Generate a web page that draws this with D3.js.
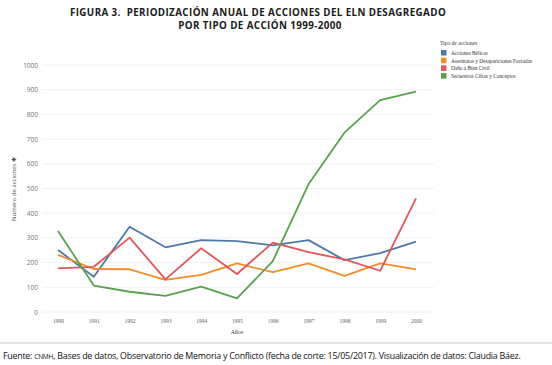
<!DOCTYPE html>
<meta charset="utf-8">
<style>
body { margin: 0; padding: 0; background: #fff; }
svg { display: block; }
.grid line { stroke: #ececec; stroke-width: 0.8px; }
</style>
<body>
<script src="https://d3js.org/d3.v7.min.js"></script>
<script>

var years = [1990, 1991, 1992, 1993, 1994, 1995, 1996, 1997, 1998, 1999, 2000];
var yTicks = [0, 100, 200, 300, 400, 500, 600, 700, 800, 900, 1000];

var seriesNames = ["Acciones Bélicas", "Asesinatos y Desapariciones Forzadas", "Daño a Bien Civil", "Secuestros Cifras y Conceptos"];
var seriesColors = ["#4e79a7", "#f28e2b", "#e15759", "#59a14f"];

var belicas     = [251, 143, 345, 262, 291, 287, 270, 291, 210, 238, 285];
var asesinatos  = [231, 174, 173, 130, 150, 197, 161, 197, 146, 197, 173];
var danoCivil   = [177, 183, 301, 132, 258, 154, 281, 242, 213, 167, 460];
var secuestros  = [328, 107, 82, 65, 103, 55, 206, 518, 726, 858, 892];

var seriesValues = [belicas, asesinatos, danoCivil, secuestros];

var width = 552, height = 365;

var svg = d3.select("body").append("svg")
    .attr("width", width)
    .attr("height", height);

// title
var title = svg.append("g")
    .attr("font-family", "'Open Sans', sans-serif")
    .attr("font-weight", 700)
    .attr("font-size", 9.8)
    .attr("letter-spacing", 0.4)
    .attr("text-anchor", "middle")
    .attr("fill", "#1a1a1a");
title.append("text").attr("x", 258).attr("y", 16).text("FIGURA 3.\u00a0 PERIODIZACIÓN ANUAL DE ACCIONES DEL ELN DESAGREGADO");
title.append("text").attr("x", 260).attr("y", 29).text("POR TIPO DE ACCIÓN 1999-2000");

var x = d3.scalePoint()
    .domain(years)
    .range([58, 416]);

var y = d3.scaleLinear()
    .domain([0, 1000])
    .range([312, 65]);

// gridlines
svg.append("g")
    .attr("class", "grid")
    .selectAll("line")
    .data(yTicks)
  .join("line")
    .attr("x1", 42)
    .attr("x2", 434)
    .attr("y1", d => y(d))
    .attr("y2", d => y(d));

// y axis
var yAxis = svg.append("g")
    .attr("transform", "translate(38,0)")
    .call(d3.axisLeft(y).tickValues(yTicks).tickFormat(d3.format("d")).tickSize(0).tickPadding(0));
yAxis.select(".domain").remove();
yAxis.selectAll("text")
    .attr("font-family", "'Open Sans', sans-serif")
    .attr("font-size", 6.5)
    .attr("fill", "#777");

// x axis
var xAxis = svg.append("g")
    .attr("transform", "translate(0,317)")
    .call(d3.axisBottom(x).tickSize(0).tickPadding(2));
xAxis.select(".domain").remove();
xAxis.selectAll("text")
    .attr("font-family", "'Liberation Serif', serif")
    .attr("font-size", 5.5)
    .attr("fill", "#666");

// axis titles
svg.append("text")
    .attr("x", 237)
    .attr("y", 334)
    .attr("text-anchor", "middle")
    .attr("font-family", "'Liberation Serif', serif")
    .attr("font-size", 6)
    .attr("fill", "#444")
    .text("Años");

svg.append("text")
    .attr("transform", "translate(16,189) rotate(-90)")
    .attr("text-anchor", "middle")
    .attr("font-family", "'Open Sans', sans-serif")
    .attr("font-size", 6)
    .attr("fill", "#555")
    .text("Número de acciones ✱");

// lines
var line = d3.line()
    .x((d, i) => x(years[i]))
    .y(d => y(d));

svg.append("g")
    .selectAll("path")
    .data(seriesValues)
  .join("path")
    .attr("fill", "none")
    .attr("stroke", (d, i) => seriesColors[i])
    .attr("stroke-width", 1.8)
    .attr("stroke-linejoin", "round")
    .attr("d", line);

// legend
var legend = svg.append("g")
    .attr("font-family", "'Liberation Serif', serif")
    .attr("fill", "#333");
legend.append("text")
    .attr("x", 440)
    .attr("y", 45)
    .attr("font-size", 5.5)
    .text("Tipo de acciones");
var items = legend.selectAll("g.item")
    .data(seriesNames)
  .join("g")
    .attr("class", "item")
    .attr("transform", (d, i) => "translate(441," + (50 + i * 7.7) + ")");
items.append("rect")
    .attr("width", 5.5)
    .attr("height", 5.5)
    .attr("fill", (d, i) => seriesColors[i]);
items.append("text")
    .attr("x", 10)
    .attr("y", 4.8)
    .attr("font-size", 5.3)
    .text(d => d);

// bottom band + source
svg.append("rect")
    .attr("x", 0)
    .attr("y", 342)
    .attr("width", width)
    .attr("height", 2)
    .attr("fill", "#e2e2e2");

var src = svg.append("text")
    .attr("x", 3)
    .attr("y", 359)
    .attr("font-family", "'Open Sans', sans-serif")
    .attr("font-size", 8.9)
    .attr("letter-spacing", -0.25)
    .attr("fill", "#111");
src.append("tspan").text("Fuente: ");
src.append("tspan").attr("font-size", 6.6).text("CNMH");
src.append("tspan").text(", Bases de datos, Observatorio de Memoria y Conflicto (fecha de corte: 15/05/2017). Visualización de datos: Claudia Báez.");

</script>
</body>
